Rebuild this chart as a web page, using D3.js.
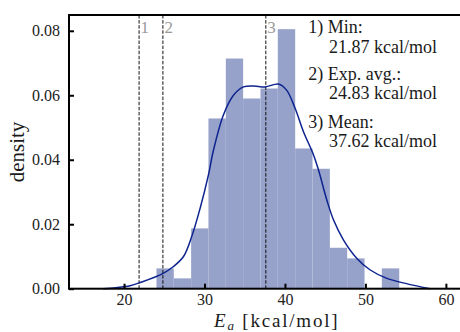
<!DOCTYPE html>
<html>
<head>
<meta charset="utf-8">
<script src="https://cdn.jsdelivr.net/npm/d3@7"></script>
<style>
  html, body { margin: 0; padding: 0; background: #fff; }
  svg { display: block; font-family: "Liberation Serif", "DejaVu Serif", serif; }
</style>
</head>
<body>
<div id="chart"></div>
<script>
// Histogram bins (edges; last value is the right edge of the last bin)
const binEdges = [24.03, 26.18, 28.34, 30.49, 32.65, 34.80, 36.96, 39.11, 41.27, 43.42, 45.58, 47.73, 49.89, 52.04, 54.20];
const binDensity = [0.0063, 0.0032, 0.0187, 0.0528, 0.0714, 0.0590, 0.0621, 0.0805, 0.0435, 0.0372, 0.0127, 0.0094, 0, 0.0063];

// KDE curve
const kdeX = [17.4, 19.0, 20.75, 21.87, 24.76, 26.1, 27.37, 28.4, 29.45, 30.49, 31.1, 32.35, 33.6, 34.84, 36.08, 37.54, 39.19, 40.2, 41.27, 42.3, 43.55, 44.17, 45.2, 46.04, 47.28, 48.94, 50.6, 52.67, 55.2, 58.06];
const kdeY = [0, 0.0003, 0.0009, 0.0018, 0.0046, 0.0068, 0.0099, 0.0161, 0.0249, 0.0353, 0.0428, 0.0539, 0.060, 0.0626, 0.0629, 0.0626, 0.0635, 0.0616, 0.0559, 0.0487, 0.0415, 0.0368, 0.0275, 0.0213, 0.0151, 0.0094, 0.0058, 0.0032, 0.0015, 0];

// Reference lines: min, exp. average, mean
const refValues = [21.87, 24.83, 37.62];
const refLabels = ['1', '2', '3'];
const noteHeads = ['1) Min:', '2) Exp. avg.:', '3) Mean:'];
const noteValues = ['21.87 kcal/mol', '24.83 kcal/mol', '37.62 kcal/mol'];

const xTicks = [20, 30, 40, 50, 60];
const yTicks = [0, 0.02, 0.04, 0.06, 0.08];

const W = 460, H = 332;
const margin = { top: 15, left: 69 };
const plotW = 430;            // axes run past the right edge of the image
const plotH = 273.7;
const FONT = '"Liberation Serif", "DejaVu Serif", serif';

const svg = d3.select('#chart').append('svg')
    .attr('width', W)
    .attr('height', H);

const g = svg.append('g')
    .attr('transform', `translate(${margin.left},${margin.top})`);

const x = d3.scaleLinear().domain([13.16, 66.6]).range([0, plotW]);
const y = d3.scaleLinear().domain([0, 0.0849]).range([plotH, 0]);

// Bars
const bins = binDensity.map((d, i) => ({ x0: binEdges[i], x1: binEdges[i + 1], d }));
g.selectAll('.bar')
    .data(bins)
    .enter().append('rect')
    .attr('x', b => x(b.x0))
    .attr('width', b => x(b.x1) - x(b.x0))
    .attr('y', b => y(b.d))
    .attr('height', b => plotH - y(b.d))
    .attr('fill', '#97a2ca');

// Dashed reference lines
g.selectAll('.ref')
    .data(refValues)
    .enter().append('line')
    .attr('x1', d => x(d)).attr('x2', d => x(d))
    .attr('y1', 0).attr('y2', plotH)
    .attr('stroke', '#111')
    .attr('stroke-width', 1)
    .attr('stroke-dasharray', '3.5,1.6');

g.selectAll('.refLabel')
    .data(refValues)
    .enter().append('text')
    .attr('x', d => x(d) + 1.5)
    .attr('y', 18)
    .attr('fill', '#9a9a9a')
    .style('font-size', '17px')
    .text((d, i) => refLabels[i]);

// KDE line
const line = d3.line()
    .x((d, i) => x(kdeX[i]))
    .y(d => y(d))
    .curve(d3.curveCatmullRom.alpha(0.5));

g.append('path')
    .datum(kdeY)
    .attr('d', line)
    .attr('fill', 'none')
    .attr('stroke', '#0d238f')
    .attr('stroke-width', 1.5);

// Axes (ticks inward)
const xAxis = d3.axisBottom(x).tickValues(xTicks).tickSizeInner(-5).tickSizeOuter(0).tickPadding(5)
    .tickFormat(d3.format('d'));
const yAxis = d3.axisLeft(y).tickValues(yTicks).tickSizeInner(-5).tickSizeOuter(0).tickPadding(9)
    .tickFormat(d3.format('.2f'));

const gx = g.append('g').attr('transform', `translate(0,${plotH})`).call(xAxis);
const gy = g.append('g').call(yAxis);

[gx, gy].forEach(a => a.attr('font-family', FONT).attr('font-size', 16));
g.selectAll('.domain').remove();
g.selectAll('.tick line').attr('stroke', '#000').attr('stroke-width', 2);
g.selectAll('.tick text')
    .attr('fill', '#222')
    .style('font-family', FONT)
    .style('font-size', '16px');

// Spines
g.append('rect')
    .attr('x', 0).attr('y', 0)
    .attr('width', plotW).attr('height', plotH)
    .attr('fill', 'none')
    .attr('stroke', '#000')
    .attr('stroke-width', 2);

// Annotation text
const notes = g.append('g');
noteHeads.forEach((t, i) => {
    const base = [18.3, 65, 112.7][i];
    notes.append('text').attr('x', 239.3).attr('y', base)
        .attr('fill', '#1a1a1a').style('font-size', '18px').text(t);
    notes.append('text').attr('x', 260).attr('y', base + 19.2)
        .attr('fill', '#1a1a1a').style('font-size', '18px').text(noteValues[i]);
});

// Axis labels
const xl = svg.append('text')
    .attr('x', 214).attr('y', 327)
    .attr('fill', '#1a1a1a')
    .style('font-size', '19px')
    .style('letter-spacing', '1.8px');
xl.append('tspan').style('font-style', 'italic').text('E');
xl.append('tspan').style('font-style', 'italic').style('font-size', '13px').attr('dy', 3).text('a');
xl.append('tspan').attr('dy', -3).text(' [kcal/mol]');

svg.append('text')
    .attr('transform', 'translate(24,152) rotate(-90)')
    .attr('text-anchor', 'middle')
    .attr('fill', '#1a1a1a')
    .style('font-size', '21px')
    .text('density');
</script>
</body>
</html>
